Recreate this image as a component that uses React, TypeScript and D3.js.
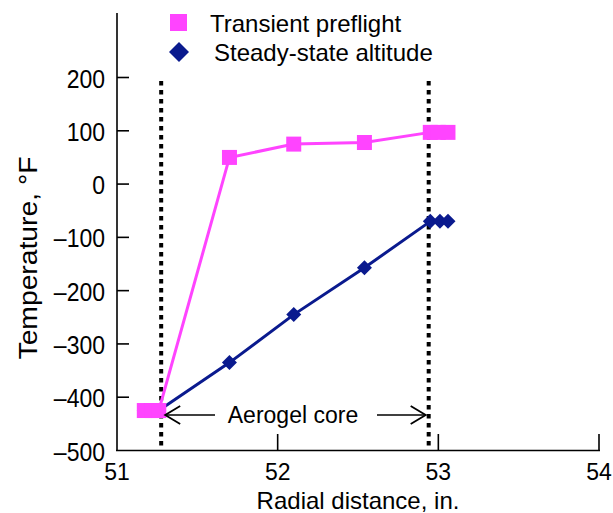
import React from "react";
import * as d3 from "d3";

const transientX = [51.17, 51.22, 51.26, 51.7, 52.1, 52.54, 52.95, 53.0, 53.06];
const transientY = [-425, -425, -425, 50, 75, 78, 97, 97, 97];
const steadyX = [51.17, 51.22, 51.26, 51.7, 52.1, 52.54, 52.95, 53.01, 53.06];
const steadyY = [-425, -425, -425, -335, -245, -157, -70, -70, -70];
const xTicks = [51, 52, 53, 54];
const yTicks = [-500, -400, -300, -200, -100, 0, 100, 200];
const coreEdges = [51.275, 52.94];
const seriesNames = ["Transient preflight", "Steady-state altitude"];

const PINK = "#ff44ff";
const NAVY = "#0a1a8e";
const FONT = "'Liberation Sans', Arial, Helvetica, sans-serif";

export default function App() {
  const x = d3.scaleLinear().domain([51, 54]).range([117, 599]);
  const y = d3.scaleLinear().domain([-500, 200]).range([450.5, 77.5]);
  const line = d3
    .line<[number, number]>()
    .x((d) => x(d[0]))
    .y((d) => y(d[1]));
  const tPts: [number, number][] = transientX.map((v, i) => [v, transientY[i]]);
  const sPts: [number, number][] = steadyX.map((v, i) => [v, steadyY[i]]);
  const tLine = tPts.slice(2, 7);
  const sLine = sPts.slice(2, 7);
  const arrowY = 415;
  const sq = 15;
  const dm = 7.5;
  const diamond = (cx: number, cy: number, r: number) =>
    `M${cx},${cy - r}L${cx + r},${cy}L${cx},${cy + r}L${cx - r},${cy}Z`;

  return (
    <svg
      width={613}
      height={513}
      style={{ position: "absolute", left: 0, top: 0, background: "#fff" }}
      fontFamily={FONT}
    >
      {/* axes */}
      <line x1={117} y1={13} x2={117} y2={451} stroke="#000" strokeWidth={1.6} />
      <line x1={116} y1={450.5} x2={600} y2={450.5} stroke="#000" strokeWidth={1.6} />
      {yTicks.map((t) => (
        <g key={"y" + t}>
          {t > -500 && (
            <line x1={117} x2={129} y1={y(t)} y2={y(t)} stroke="#000" strokeWidth={1.6} />
          )}
          <text
            transform={`translate(105,${y(t) + 1}) scale(1,1.1)`}
            dy="0.36em"
            textAnchor="end"
            fontSize={23}
            fill="#000"
          >
            {t < 0 ? "\u2013" + Math.abs(t) : String(t)}
          </text>
        </g>
      ))}
      {xTicks.map((t) => (
        <g key={"x" + t}>
          {t > 51 && (
            <line x1={x(t)} x2={x(t)} y1={450.5} y2={434} stroke="#000" strokeWidth={1.6} />
          )}
          <text
            transform={`translate(${x(t)},480) scale(1,1.08)`}
            textAnchor="middle"
            fontSize={23}
            fill="#000"
          >
            {t}
          </text>
        </g>
      ))}
      <text x={358} y={509} textAnchor="middle" fontSize={24} fill="#000">
        Radial distance, in.
      </text>
      <text
        transform={`translate(37,258) rotate(-90)`}
        textAnchor="middle"
        fontSize={25}
        textLength={203}
        lengthAdjust="spacingAndGlyphs"
        fill="#000"
      >
        Temperature, °F
      </text>

      {/* core boundary dotted lines */}
      {coreEdges.map((c) => (
        <line
          key={"c" + c}
          x1={x(c)}
          x2={x(c)}
          y1={81}
          y2={450}
          stroke="#000"
          strokeWidth={4}
          strokeDasharray="4.5 4.5"
        />
      ))}

      {/* steady-state */}
      <path d={line(sLine) || ""} fill="none" stroke={NAVY} strokeWidth={3} />
      {sPts.map((p, i) => (
        <path key={"s" + i} d={diamond(x(p[0]), y(p[1]), dm)} fill={NAVY} />
      ))}

      {/* transient */}
      <path d={line(tLine) || ""} fill="none" stroke={PINK} strokeWidth={3} />
      {tPts.map((p, i) => (
        <rect
          key={"t" + i}
          x={x(p[0]) - sq / 2}
          y={y(p[1]) - sq / 2}
          width={sq}
          height={sq}
          fill={PINK}
        />
      ))}

      {/* aerogel core annotation */}
      <line x1={x(coreEdges[0]) + 4} x2={215} y1={arrowY} y2={arrowY} stroke="#000" strokeWidth={1.5} />
      <path
        d={`M${x(coreEdges[0]) + 19},${arrowY - 9}L${x(coreEdges[0]) + 4},${arrowY}L${x(coreEdges[0]) + 19},${arrowY + 9}`}
        fill="none"
        stroke="#000"
        strokeWidth={1.8}
      />
      <line x1={377} x2={x(coreEdges[1]) - 3} y1={arrowY} y2={arrowY} stroke="#000" strokeWidth={1.5} />
      <path
        d={`M${x(coreEdges[1]) - 18},${arrowY - 9}L${x(coreEdges[1]) - 3},${arrowY}L${x(coreEdges[1]) - 18},${arrowY + 9}`}
        fill="none"
        stroke="#000"
        strokeWidth={1.8}
      />
      <text x={293} y={arrowY} dy="0.36em" textAnchor="middle" fontSize={23} fill="#000">
        Aerogel core
      </text>

      {/* legend */}
      <rect x={170} y={14} width={17} height={17} fill={PINK} />
      <text x={210} y={32} fontSize={24} fill="#000">
        {seriesNames[0]}
      </text>
      <path d={diamond(179, 52, 10)} fill={NAVY} />
      <text x={214} y={61} fontSize={24} fill="#000">
        {seriesNames[1]}
      </text>
    </svg>
  );
}
